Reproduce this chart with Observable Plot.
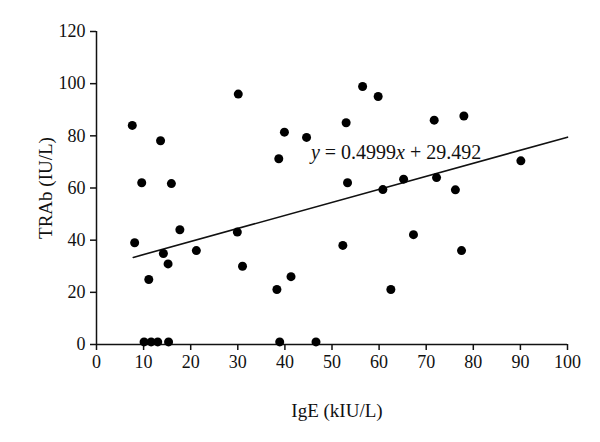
<!DOCTYPE html>
<html><head><meta charset="utf-8">
<script src="https://cdn.jsdelivr.net/npm/d3@7"></script>
<script src="https://cdn.jsdelivr.net/npm/@observablehq/plot@0.6"></script>
<style>body{margin:0;background:#fff}</style>
</head><body><div id="chart"></div>
<script>
const ige = [7.6, 9.6, 15.9, 13.6, 8.1, 14.2, 15.2, 11.1, 17.7, 21.2,
  10.1, 11.6, 13.0, 15.3, 38.9, 46.6,
  30.1, 39.9, 44.6, 38.7, 53.0, 56.5, 59.8, 53.3, 60.8, 29.9, 31.0, 41.3, 38.3, 52.3, 62.5,
  71.7, 78.0, 65.2, 72.2, 76.2, 90.1, 67.3, 77.5];
const trab = [84.0, 62.0, 61.7, 78.1, 39.0, 34.9, 30.9, 24.9, 44.0, 36.0,
  1, 1, 1, 1, 1, 1,
  96.0, 81.4, 79.4, 71.2, 85.0, 98.9, 95.1, 62.0, 59.4, 43.1, 30.0, 26.0, 21.1, 38.0, 21.1,
  86.0, 87.6, 63.4, 64.0, 59.3, 70.4, 42.1, 36.0];
const slope = 0.4999, intercept = 29.492;
const fitX = [7.8, 100];
const xTicks = [0,10,20,30,40,50,60,70,80,90,100];
const yTicks = [0,20,40,60,80,100,120];
const equation = [{x: 63.6, y: 73.7, label: "y = 0.4999x + 29.492"}];

const pts = ige.map((x,i)=>({x, y: trab[i]}));
const fit = fitX.map(x=>({x, y: slope*x + intercept}));
const font = "'Liberation Serif', 'DejaVu Serif', serif";

const chart = Plot.plot({
  width: 600, height: 442,
  marginLeft: 96, marginRight: 33, marginTop: 31, marginBottom: 98,
  style: {fontFamily: font, fontSize: "17px", color: "#111", background: "#fff"},
  x: {domain: [0,100]},
  y: {domain: [0,120]},
  marks: [
    Plot.ruleX([0], {stroke: "#111", strokeWidth: 1.5}),
    Plot.ruleY([0], {stroke: "#111", strokeWidth: 1.5}),
    Plot.axisX({ticks: xTicks, tickSize: 6, tickPadding: 5, tickFormat: d=>String(d), strokeWidth: 1.5, stroke: "#111",
      fontSize: 18, fill: "#111",
      label: "IgE (kIU/L)", labelAnchor: "center", labelArrow: "none", labelOffset: 72}),
    Plot.axisY({ticks: yTicks, tickSize: 6, tickPadding: 5, tickFormat: d=>String(d), strokeWidth: 1.5, stroke: "#111",
      fontSize: 18, fill: "#111",
      label: "TRAb (IU/L)", labelAnchor: "center", labelArrow: "none", labelOffset: 58}),
    Plot.line(fit, {x: "x", y: "y", stroke: "#111", strokeWidth: 1.6}),
    Plot.dot(pts, {x: "x", y: "y", r: 4.5, fill: "#000", stroke: "none"}),
    Plot.text(equation, {x: "x", y: "y", text: "label", fontSize: 20, fill: "#111", textAnchor: "middle", lineAnchor: "middle", className: "eq"})
  ]
});
document.getElementById("chart").appendChild(chart);
const root = d3.select(chart);
root.selectAll('g[aria-label="x-axis tick label"], g[aria-label="y-axis tick label"]').attr("font-size", null).style("font-size", "18px");
root.selectAll('g[aria-label="x-axis label"] text, g[aria-label="y-axis label"] text').style("font-size", "19px");
root.selectAll('g[aria-label="x-axis label"] text').attr("dx", 5);
// italicize the variables in the equation
root.selectAll(".eq text").each(function(){
  const t = this.textContent;
  const sel = d3.select(this);
  sel.text("");
  t.split(/([xy])/).forEach(p => {
    if (!p) return;
    const ts = sel.append("tspan").text(p);
    if (p === "x" || p === "y") ts.attr("font-style", "italic");
  });
});
</script>
</body></html>
